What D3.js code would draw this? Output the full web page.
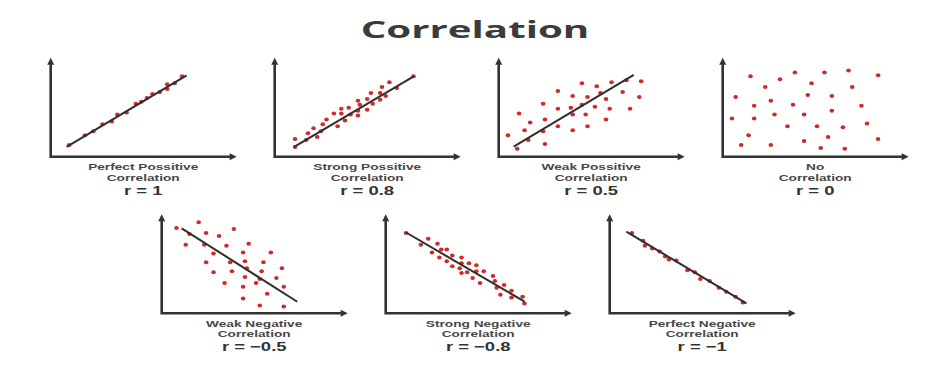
<!DOCTYPE html>
<html>
<head>
<meta charset="utf-8">
<script src="https://cdn.jsdelivr.net/npm/d3@7"></script>
<style>
  html, body { margin: 0; padding: 0; background: #fff; }
  svg { display: block; }
  text { font-weight: 700; }
  .title { font-family: "Open Sans", "DejaVu Sans", sans-serif; }
  .caption { font-family: "Liberation Sans", Arial, sans-serif; }
</style>
</head>
<body>
<svg id="chart" width="945" height="383"></svg>
<script>
// ---- data (x, y on a 0–100 scale) ----
const perfectPositive = [[10,12],[18.5,22],[23,26],[28,33],[33,36],[36,43],[41,45],[46,54],[49,56],[52,60],[55,64],[59,66],[63,74],[63,69],[67,75],[71,82]];
const strongPositive = [[11,10],[11,18],[17,17],[18,24],[23,20],[21,29],[25,26],[26,33],[28,38],[34,31],[32,44],[36,49],[36,44],[38,37],[40,50],[41,43],[45,42],[45,57],[45,47],[46,53],[50,48],[50,59],[52,65],[53,54],[57,58],[57,65],[58,71],[60,62],[62,76],[66,70],[75,82]];
const weakPositive = [[5,22],[10,8],[11,44],[14,27],[16,17],[17,35],[24,54],[24,26],[25,13],[25,38],[32,67],[32,49],[32,31],[39,50],[40,27],[40,43],[40,62],[45,75],[45,53],[47,43],[48,61],[48,31],[52,51],[53,72],[55,65],[58,59],[58,38],[60,49],[61,76],[67,66],[69,78],[71,49],[76,61],[77,77]];
const noCorrelation = [[15,82],[31,79],[39,86],[55,86],[68,88],[84,83],[23,71],[48,75],[70,71],[7,61],[26,57],[46,63],[59,62],[17,52],[38,53],[75,52],[5,39],[17,39],[28,43],[44,43],[59,47],[78,34],[35,31],[51,31],[65,30],[14,22],[44,16],[57,20],[84,18],[10,12],[26,12],[53,9],[66,8]];
const weakNegative = [[8,87],[20,93],[15,81],[24,82],[31,79],[39,86],[13,70],[23,70],[35,69],[47,71],[28,61],[44,62],[59,62],[24,52],[37,52],[45,53],[55,52],[28,42],[38,43],[46,46],[54,43],[65,46],[45,37],[53,35],[62,36],[34,31],[44,27],[51,31],[66,27],[57,20],[44,15],[53,8],[66,7]];
const strongNegative = [[11,82],[19,70],[23,76],[25,62],[28,71],[29,57],[30,65],[33,65],[33,53],[36,59],[36,48],[41,57],[40,46],[41,41],[41,51],[45,51],[44,42],[49,49],[49,43],[47,36],[51,31],[53,43],[58,38],[59,33],[60,26],[64,29],[62,19],[68,23],[68,16],[74,17],[75,10]];
const perfectNegative = [[12,82],[18,74],[19,69],[23,66],[27,63],[30,58],[32,55],[36,54],[42,44],[46,42],[49,35],[54,33],[59,26],[63,22],[68,17],[72,11]];

// trend line end points [x1, y1, x2, y2]
const trendLines = [
  [8.6, 10, 73.5, 83],
  [10.5, 10, 75.4, 82.3],
  [8.1, 10.2, 73, 83.4],
  null,
  [10.8, 86.7, 73.3, 11.8],
  [10.8, 82.7, 75.1, 11.8],
  [9, 83.3, 73.9, 10.2]
];

const labelLine1 = ["Perfect Possitive", "Strong Possitive", "Weak Possitive", "No", "Weak Negative", "Strong Negative", "Perfect Negative"];
const labelLine2 = ["Correlation", "Correlation", "Correlation", "Correlation", "Correlation", "Correlation", "Correlation"];
const rLabels = ["r = 1", "r = 0.8", "r = 0.5", "r = 0", "r = \u22120.5", "r = \u22120.8", "r = \u22121"];
const seriesList = [perfectPositive, strongPositive, weakPositive, noCorrelation, weakNegative, strongNegative, perfectNegative];
const chartTitle = "Correlation";

// ---- layout ----
const svg = d3.select("#chart");
const W = 185, H = 98;
const colStep = 224;
const origins = [
  [50.7, 156.7], [50.7 + colStep, 156.7], [50.7 + 2 * colStep, 156.7], [50.7 + 3 * colStep, 156.7],
  [161.7, 313.3], [161.7 + colStep, 313.3], [161.7 + 2 * colStep, 313.3]
];
const titleStretch = 1.75;
const labelStretch = 1.52;
const rStretch = 1.42;
const axisColor = "#333";
const dotColor = "#cf2a2a";

const x = d3.scaleLinear().domain([0, 100]).range([0, W]);
const y = d3.scaleLinear().domain([0, 100]).range([0, -H]);

svg.append("text")
  .attr("class", "title")
  .attr("transform", `translate(475,38.3) scale(${titleStretch},1)`)
  .attr("text-anchor", "middle")
  .attr("font-size", 23)
  .attr("fill", "#3b3b3b")
  .text(chartTitle);

seriesList.forEach((data, i) => {
  const [ox, oy] = origins[i];
  const g = svg.append("g").attr("transform", `translate(${ox},${oy})`);

  // scatter points
  g.selectAll("ellipse.dot").data(data).join("ellipse")
    .attr("class", "dot")
    .attr("cx", d => x(d[0]))
    .attr("cy", d => y(d[1]))
    .attr("rx", 2.3).attr("ry", 2)
    .attr("fill", dotColor);

  // trend line
  const t = trendLines[i];
  if (t) {
    g.append("line")
      .attr("x1", x(t[0])).attr("y1", y(t[1]))
      .attr("x2", x(t[2])).attr("y2", y(t[3]))
      .attr("stroke", "#2e2e2e").attr("stroke-width", 2);
  }

  // axes with arrow heads
  g.append("path")
    .attr("d", `M${x(0)},${y(100) + 4}L${x(0)},${y(0)}L${x(100) - 4},${y(0)}`)
    .attr("fill", "none").attr("stroke", axisColor).attr("stroke-width", 2.6);
  g.append("path")
    .attr("d", `M${x(0) - 3.5},${y(100) + 6}L${x(0)},${y(100) - 1}L${x(0) + 3.5},${y(100) + 6}Z`)
    .attr("fill", axisColor);
  g.append("path")
    .attr("d", `M${x(100) - 6},${y(0) - 3.5}L${x(100) + 1},${y(0)}L${x(100) - 6},${y(0) + 3.5}Z`)
    .attr("fill", axisColor);

  // captions
  const cx = x(50);
  g.append("text")
    .attr("class", "caption")
    .attr("transform", `translate(${cx},13.6) scale(${labelStretch},1)`)
    .attr("text-anchor", "middle").attr("font-size", 9).attr("fill", "#474747")
    .text(labelLine1[i]);
  g.append("text")
    .attr("class", "caption")
    .attr("transform", `translate(${cx},23.8) scale(${labelStretch},1)`)
    .attr("text-anchor", "middle").attr("font-size", 9).attr("fill", "#474747")
    .text(labelLine2[i]);
  g.append("text")
    .attr("class", "caption")
    .attr("transform", `translate(${cx},38) scale(${rStretch},1)`)
    .attr("text-anchor", "middle").attr("font-size", 13).attr("fill", "#333")
    .text(rLabels[i]);
});
</script>
</body>
</html>
